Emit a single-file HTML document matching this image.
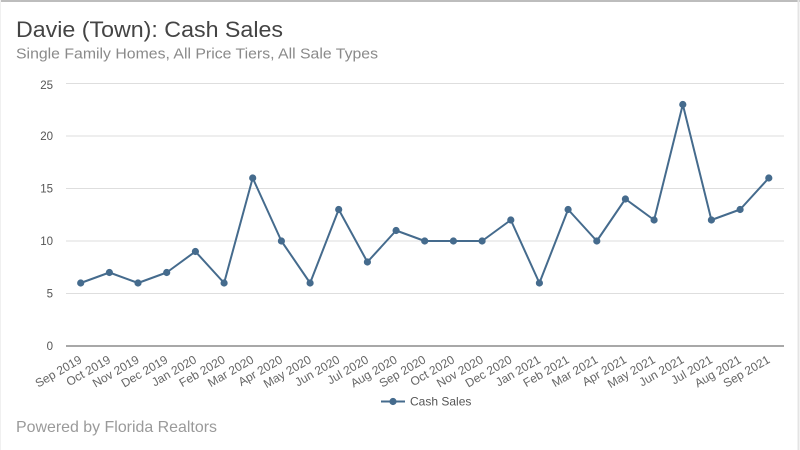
<!DOCTYPE html>
<html><head><meta charset="utf-8">
<style>
html,body{margin:0;padding:0;background:#fff;}
body{width:800px;height:450px;overflow:hidden;position:relative;}
svg{position:absolute;left:0;top:0;}
</style></head>
<body>
<svg width="800" height="450" viewBox="0 0 800 450" xmlns="http://www.w3.org/2000/svg" font-family="'Liberation Sans', sans-serif">
  <rect x="0" y="0" width="800" height="450" fill="#fff"/>
  <line x1="0" y1="1" x2="800" y2="1" stroke="#bdbdbd" stroke-width="2"/>
  <line x1="798.5" y1="0" x2="798.5" y2="450" stroke="#e4e4e4" stroke-width="2"/>
  <line x1="0.5" y1="0" x2="0.5" y2="450" stroke="#f0f0f0" stroke-width="1"/>

  <text x="16" y="37" font-size="22" fill="#444" textLength="267" lengthAdjust="spacingAndGlyphs">Davie (Town): Cash Sales</text>
  <text x="16" y="58.5" font-size="15" fill="#8a8a8a" textLength="362" lengthAdjust="spacingAndGlyphs">Single Family Homes, All Price Tiers, All Sale Types</text>

  <g stroke="#dedede" stroke-width="1">
    <line x1="66" y1="83.5" x2="784" y2="83.5"/>
    <line x1="66" y1="136" x2="784" y2="136"/>
    <line x1="66" y1="188.5" x2="784" y2="188.5"/>
    <line x1="66" y1="241" x2="784" y2="241"/>
    <line x1="66" y1="293.5" x2="784" y2="293.5"/>
  </g>
  <line x1="66" y1="346" x2="784" y2="346" stroke="#8c8c8c" stroke-width="1.5"/>

  <g font-size="11.5" fill="#555" text-anchor="end">
    <text x="53" y="89">25</text>
    <text x="53" y="140">20</text>
    <text x="53" y="192.5">15</text>
    <text x="53" y="245">10</text>
    <text x="53" y="297.5">5</text>
    <text x="53" y="350">0</text>
  </g>

  <polyline fill="none" stroke="#456b8d" stroke-width="2" stroke-linejoin="round"
    points="80.7,283 109.4,272.5 138,283 166.7,272.5 195.4,251.5 224.1,283 252.7,178 281.4,241 310.1,283 338.7,209.5 367.4,262 396.1,230.5 424.7,241 453.4,241 482.1,241 510.8,220 539.4,283 568.1,209.5 596.8,241 625.4,199 654.1,220 682.8,104.5 711.4,220 740.1,209.5 768.8,178"/>
  <g fill="#456b8d">
    <circle cx="80.7" cy="283" r="3.6"/>
    <circle cx="109.4" cy="272.5" r="3.6"/>
    <circle cx="138" cy="283" r="3.6"/>
    <circle cx="166.7" cy="272.5" r="3.6"/>
    <circle cx="195.4" cy="251.5" r="3.6"/>
    <circle cx="224.1" cy="283" r="3.6"/>
    <circle cx="252.7" cy="178" r="3.6"/>
    <circle cx="281.4" cy="241" r="3.6"/>
    <circle cx="310.1" cy="283" r="3.6"/>
    <circle cx="338.7" cy="209.5" r="3.6"/>
    <circle cx="367.4" cy="262" r="3.6"/>
    <circle cx="396.1" cy="230.5" r="3.6"/>
    <circle cx="424.7" cy="241" r="3.6"/>
    <circle cx="453.4" cy="241" r="3.6"/>
    <circle cx="482.1" cy="241" r="3.6"/>
    <circle cx="510.8" cy="220" r="3.6"/>
    <circle cx="539.4" cy="283" r="3.6"/>
    <circle cx="568.1" cy="209.5" r="3.6"/>
    <circle cx="596.8" cy="241" r="3.6"/>
    <circle cx="625.4" cy="199" r="3.6"/>
    <circle cx="654.1" cy="220" r="3.6"/>
    <circle cx="682.8" cy="104.5" r="3.6"/>
    <circle cx="711.4" cy="220" r="3.6"/>
    <circle cx="740.1" cy="209.5" r="3.6"/>
    <circle cx="768.8" cy="178" r="3.6"/>
  </g>

  <g font-size="12" fill="#666" text-anchor="end">
    <text transform="translate(82.7,362) rotate(-30)">Sep 2019</text>
    <text transform="translate(111.4,362) rotate(-30)">Oct 2019</text>
    <text transform="translate(140,362) rotate(-30)">Nov 2019</text>
    <text transform="translate(168.7,362) rotate(-30)">Dec 2019</text>
    <text transform="translate(197.4,362) rotate(-30)">Jan 2020</text>
    <text transform="translate(226.1,362) rotate(-30)">Feb 2020</text>
    <text transform="translate(254.7,362) rotate(-30)">Mar 2020</text>
    <text transform="translate(283.4,362) rotate(-30)">Apr 2020</text>
    <text transform="translate(312.1,362) rotate(-30)">May 2020</text>
    <text transform="translate(340.7,362) rotate(-30)">Jun 2020</text>
    <text transform="translate(369.4,362) rotate(-30)">Jul 2020</text>
    <text transform="translate(398.1,362) rotate(-30)">Aug 2020</text>
    <text transform="translate(426.7,362) rotate(-30)">Sep 2020</text>
    <text transform="translate(455.4,362) rotate(-30)">Oct 2020</text>
    <text transform="translate(484.1,362) rotate(-30)">Nov 2020</text>
    <text transform="translate(512.8,362) rotate(-30)">Dec 2020</text>
    <text transform="translate(541.4,362) rotate(-30)">Jan 2021</text>
    <text transform="translate(570.1,362) rotate(-30)">Feb 2021</text>
    <text transform="translate(598.8,362) rotate(-30)">Mar 2021</text>
    <text transform="translate(627.4,362) rotate(-30)">Apr 2021</text>
    <text transform="translate(656.1,362) rotate(-30)">May 2021</text>
    <text transform="translate(684.8,362) rotate(-30)">Jun 2021</text>
    <text transform="translate(713.4,362) rotate(-30)">Jul 2021</text>
    <text transform="translate(742.1,362) rotate(-30)">Aug 2021</text>
    <text transform="translate(770.8,362) rotate(-30)">Sep 2021</text>
  </g>

  <line x1="381" y1="401.5" x2="405" y2="401.5" stroke="#456b8d" stroke-width="2"/>
  <circle cx="393" cy="401.5" r="3.6" fill="#456b8d"/>
  <text x="410" y="405.5" font-size="12" fill="#555">Cash Sales</text>

  <text x="16" y="432" font-size="16" fill="#9a9a9a" textLength="201" lengthAdjust="spacingAndGlyphs">Powered by Florida Realtors</text>
</svg>
</body></html>
